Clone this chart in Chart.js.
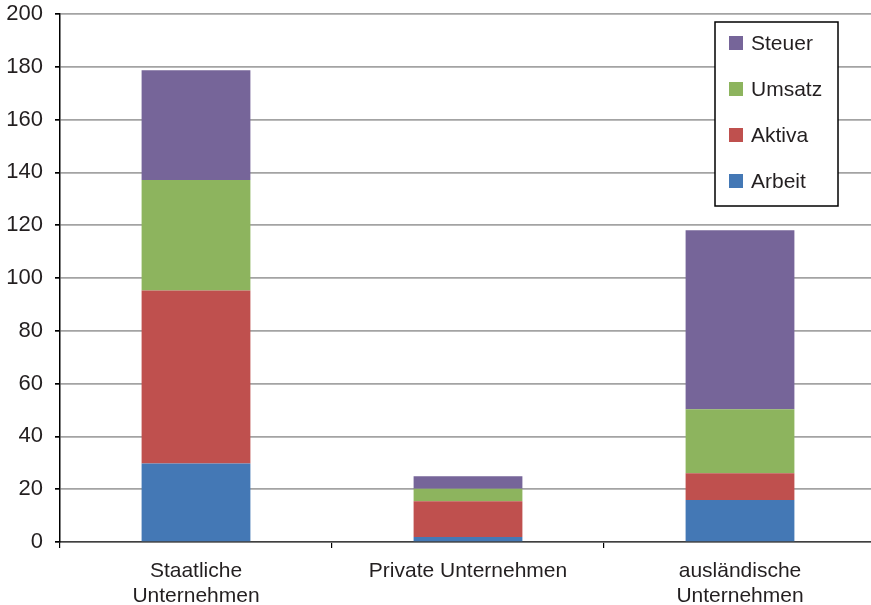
<!DOCTYPE html>
<html>
<head>
<meta charset="utf-8">
<script src="https://cdn.jsdelivr.net/npm/chart.js@4/dist/chart.umd.min.js"></script>
<style>
  html, body { margin: 0; padding: 0; background: #fff; overflow: hidden; }
  #wrap { width: 871px; height: 605px; overflow: hidden; }
  #c { display: block; }
</style>
</head>
<body>
<div id="wrap"><canvas id="c" width="876" height="605"></canvas></div>
<script>
// Categories and stacked components
const categories = [["Staatliche", "Unternehmen"], "Private Unternehmen", ["ausländische", "Unternehmen"]];
const arbeit = [29.7, 1.9, 15.9];
const aktiva = [65.6, 13.5, 10.1];
const umsatz = [41.8, 4.8, 24.3];
const steuer = [41.6, 4.7, 67.8];
const yTicks = [0, 20, 40, 60, 80, 100, 120, 140, 160, 180, 200];

const FONT = "'Liberation Sans', Arial, sans-serif";
const TEXT = '#231f20';

// Boxed legend drawn inside the plot, top right, series listed top-down
const boxLegend = {
  id: 'boxLegend',
  afterDraw(chart) {
    const ctx = chart.ctx;
    const area = chart.chartArea;
    const x = area.right - 161, y = area.top + 8, w = 123, h = 184;
    ctx.save();
    ctx.fillStyle = '#fff';
    ctx.fillRect(x, y, w, h);
    ctx.strokeStyle = '#000';
    ctx.lineWidth = 1.5;
    ctx.strokeRect(x, y, w, h);
    const ds = chart.data.datasets.slice().reverse();
    ctx.font = '21px ' + FONT;
    ctx.textBaseline = 'middle';
    ds.forEach((d, i) => {
      const cy = y + 21 + i * 46;
      ctx.fillStyle = d.backgroundColor;
      ctx.fillRect(x + 14, cy - 7, 14, 14);
      ctx.fillStyle = TEXT;
      ctx.fillText(d.label, x + 36, cy + 1);
    });
    ctx.restore();
  }
};

new Chart(document.getElementById('c'), {
  type: 'bar',
  data: {
    labels: categories,
    datasets: [
      { label: 'Arbeit', data: arbeit, backgroundColor: '#4478b5' },
      { label: 'Aktiva', data: aktiva, backgroundColor: '#bf504e' },
      { label: 'Umsatz', data: umsatz, backgroundColor: '#8db45e' },
      { label: 'Steuer', data: steuer, backgroundColor: '#766599' }
    ]
  },
  options: {
    responsive: false,
    animation: false,
    layout: { padding: { top: 14, right: 0, left: 0, bottom: 0 } },
    datasets: { bar: { barPercentage: 0.4, categoryPercentage: 1.0 } },
    plugins: { legend: { display: false }, tooltip: { enabled: false } },
    scales: {
      x: {
        stacked: true,
        offset: true,
        border: { display: true, color: '#404040', width: 1.5 },
        grid: { display: true, drawOnChartArea: false, drawTicks: true, tickLength: 6, tickColor: '#000', lineWidth: 1.2, offset: true },
        ticks: { font: { size: 21, family: FONT, lineHeight: 1.18 }, color: TEXT, padding: 11, maxRotation: 0, autoSkip: false },
        afterFit(scale) { scale.height = 63; scale.paddingLeft = 0; scale.paddingRight = 0; }
      },
      y: {
        stacked: true,
        min: 0,
        max: 200,
        afterBuildTicks(scale) { scale.ticks = yTicks.map(v => ({ value: v })); },
        border: { display: true, color: '#000', width: 1.5 },
        grid: { color: '#a3a3a3', lineWidth: 1.7, drawTicks: true, tickLength: 5, tickColor: '#000' },
        ticks: { font: { size: 22, family: FONT }, color: TEXT, padding: 12 },
        afterFit(scale) { scale.width = 60; scale.paddingTop = 0; scale.paddingBottom = 0; }
      }
    }
  },
  plugins: [boxLegend]
});
</script>
</body>
</html>
